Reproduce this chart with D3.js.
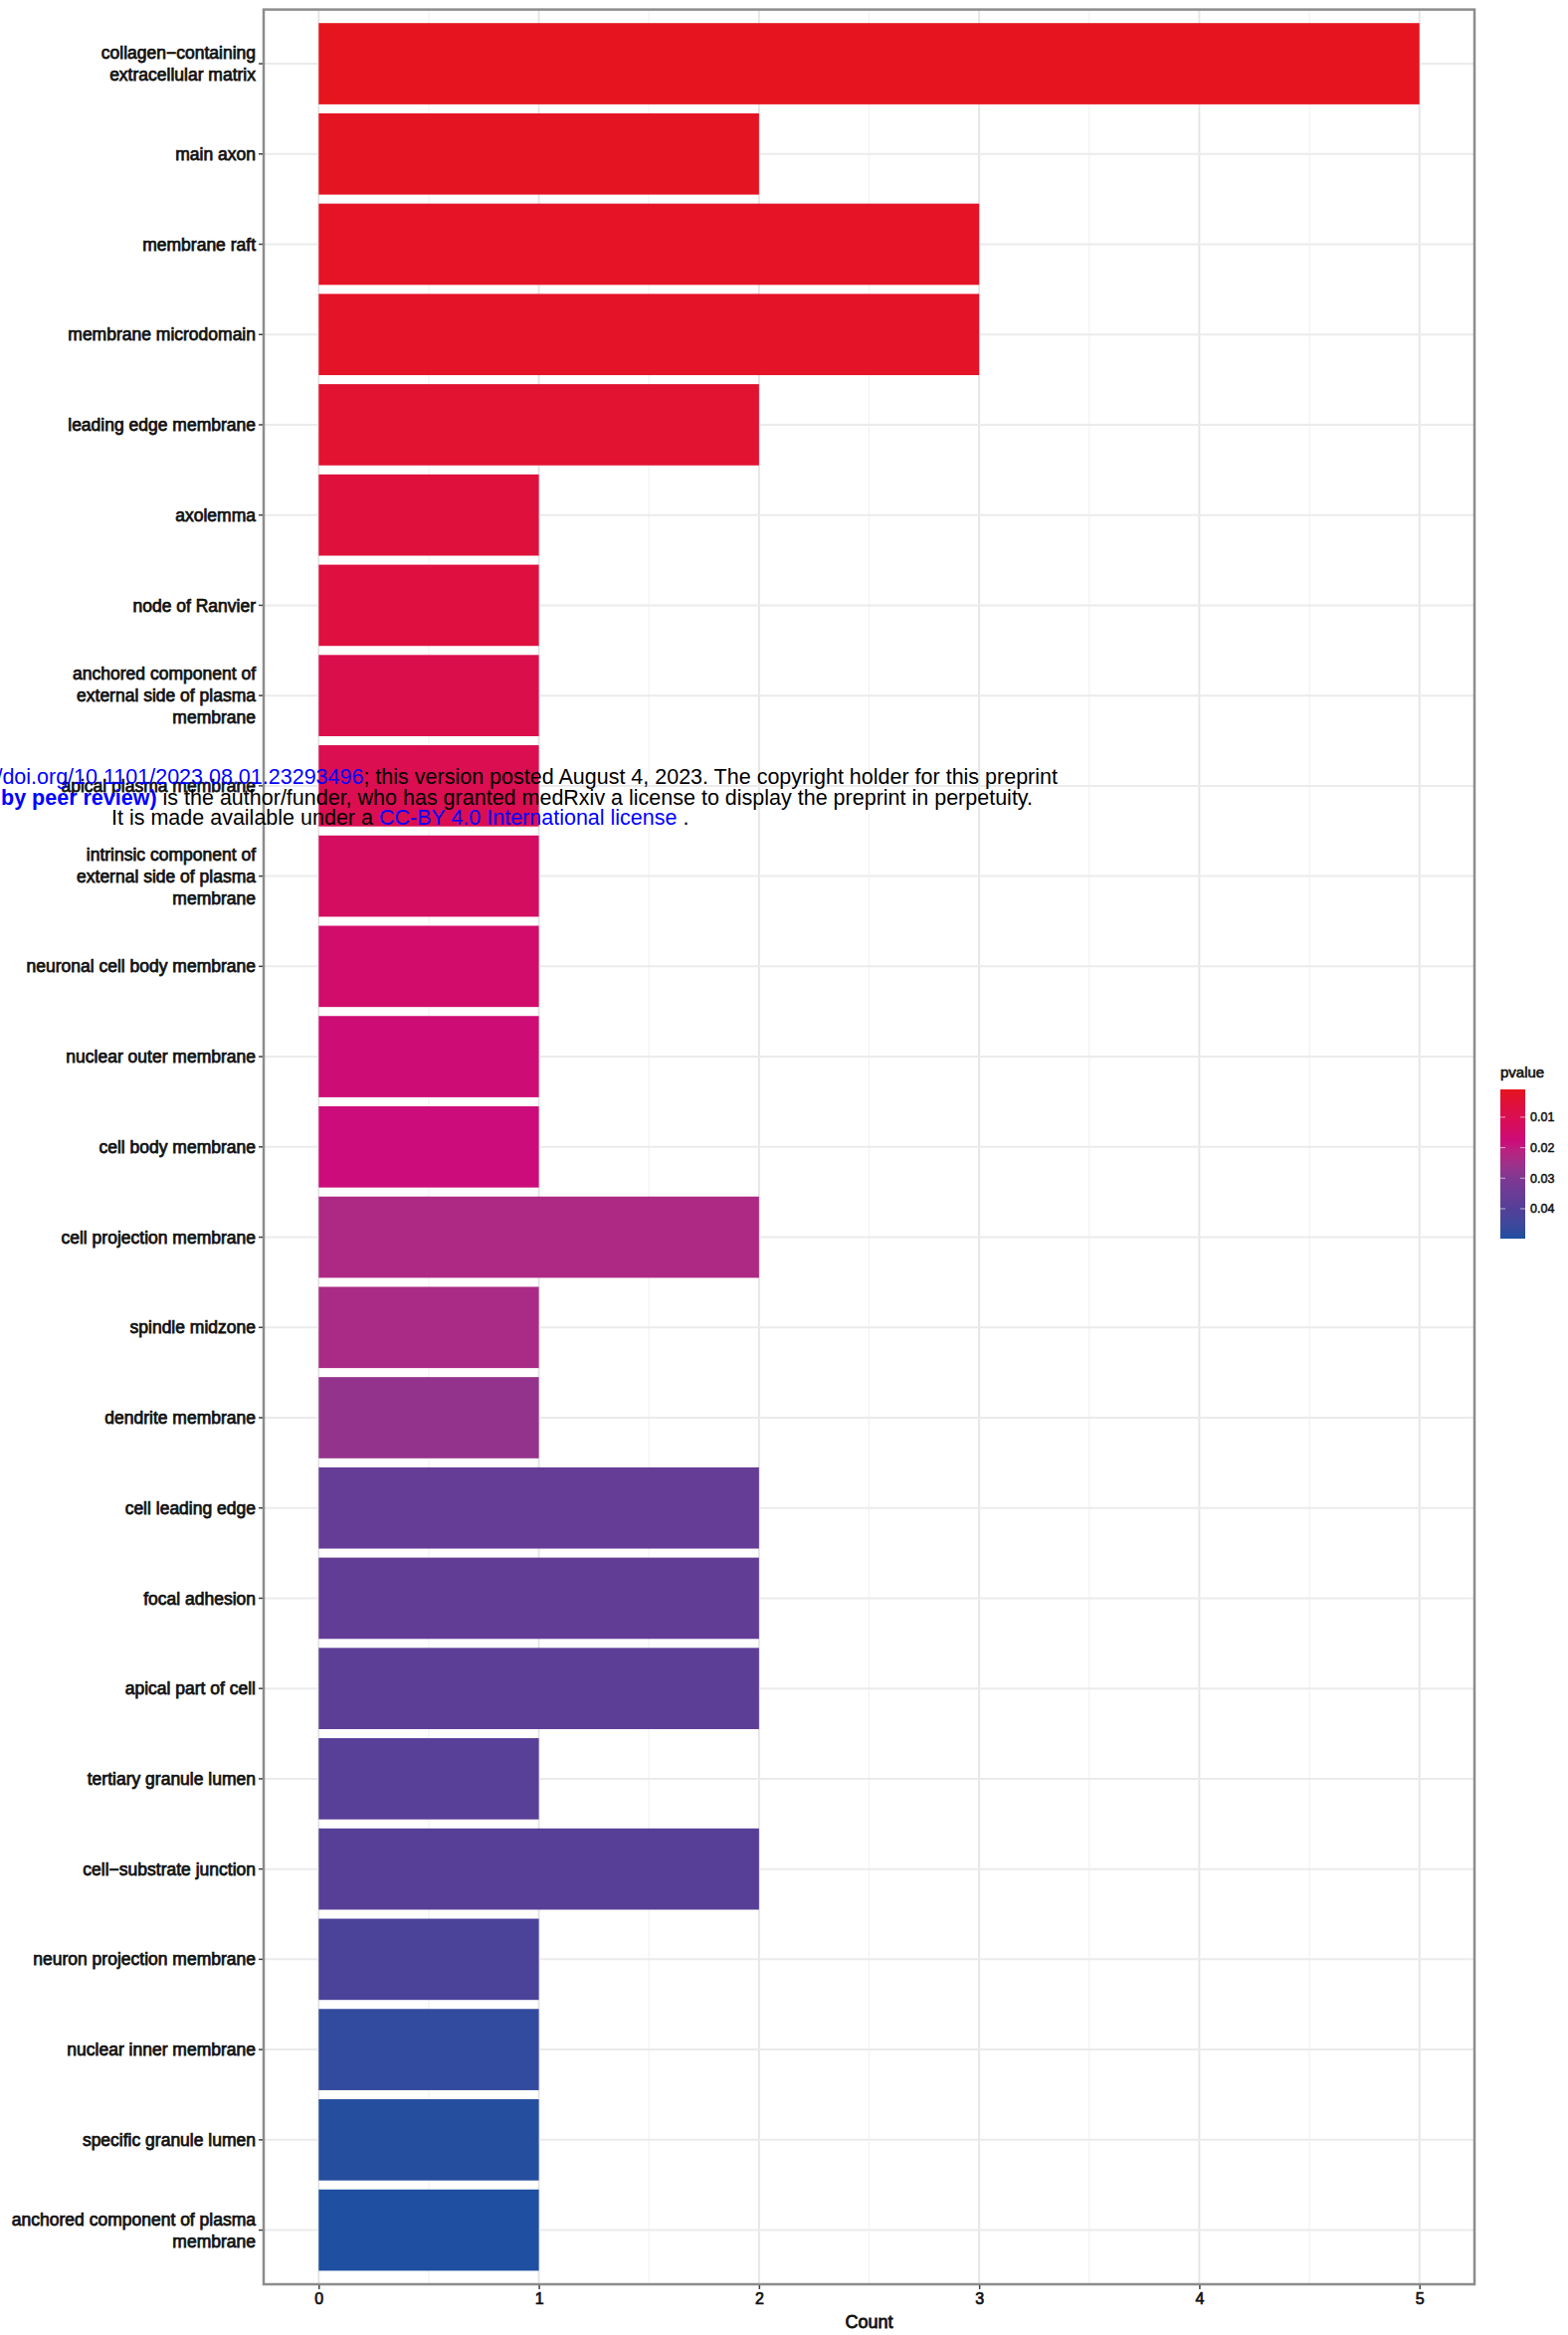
<!DOCTYPE html>
<html>
<head>
<meta charset="utf-8">
<script src="https://cdn.jsdelivr.net/npm/d3@7"></script>
<style>
  html, body { margin: 0; padding: 0; background: #fff; }
  svg { display: block; }
</style>
</head>
<body>
<svg id="chart" width="1576" height="2347"></svg>
<script>
// ---------------- data ----------------
const categories = [
  "collagen\u2212containing\nextracellular matrix",
  "main axon",
  "membrane raft",
  "membrane microdomain",
  "leading edge membrane",
  "axolemma",
  "node of Ranvier",
  "anchored component of\nexternal side of plasma\nmembrane",
  "apical plasma membrane",
  "intrinsic component of\nexternal side of plasma\nmembrane",
  "neuronal cell body membrane",
  "nuclear outer membrane",
  "cell body membrane",
  "cell projection membrane",
  "spindle midzone",
  "dendrite membrane",
  "cell leading edge",
  "focal adhesion",
  "apical part of cell",
  "tertiary granule lumen",
  "cell\u2212substrate junction",
  "neuron projection membrane",
  "nuclear inner membrane",
  "specific granule lumen",
  "anchored component of plasma\nmembrane"
];
const counts = [5, 2, 3, 3, 2, 1, 1, 1, 1, 1, 1, 1, 1, 2, 1, 1, 2, 2, 2, 1, 2, 1, 1, 1, 1];
const pvalues = [0.0009, 0.0015, 0.002, 0.0022, 0.004, 0.006, 0.0065, 0.009, 0.010, 0.013,
                 0.015, 0.017, 0.018, 0.023, 0.0235, 0.027, 0.036, 0.037, 0.038, 0.039,
                 0.0393, 0.042, 0.047, 0.049, 0.0498];
const xTicks = [0, 1, 2, 3, 4, 5];
const legendTicks = [0.01, 0.02, 0.03, 0.04];

const noticeLines = [
  [["medRxiv preprint doi: ", "#000", "normal"], ["https://doi.org/10.1101/2023.08.01.23293496", "#0000ff", "normal"], ["; this version posted August 4, 2023. The copyright holder for this preprint", "#000", "normal"]],
  [["(which was not certified ", "#000", "normal"], ["by peer review)", "#0000ff", "bold"], [" is the author/funder, who has granted medRxiv a license to display the preprint in perpetuity.", "#000", "normal"]],
  [["It is made available under a ", "#000", "normal"], ["CC-BY 4.0 International license", "#0000ff", "normal"], [" .", "#000", "normal"]]
];

// ---------------- layout ----------------
const PL = 265, PR = 1482, PT = 9.6, PB = 2296;
const svg = d3.select("#chart");
const font = "'Liberation Sans', Arial, Helvetica, sans-serif";

const x = d3.scaleLinear().domain([-0.25, 5.25]).range([PL, PR]);
const y = d3.scaleBand().domain(categories).range([PT, PB]).paddingInner(0.1).paddingOuter(0.15);

const pmin = d3.min(pvalues), pmax = d3.max(pvalues);
const color = d3.scaleLinear()
  .domain([pmin, 0.018, 0.03, 0.04, pmax])
  .range(["#e6141e", "#cc0c7a", "#7f3892", "#533f98", "#1e4fa0"])
  .interpolate(d3.interpolateLab);

// panel background
svg.append("rect").attr("x", PL).attr("y", PT).attr("width", PR - PL).attr("height", PB - PT).attr("fill", "#fff");

// minor vertical grid
const minor = d3.range(-0.5, 5.6, 1).filter(v => v > -0.25 && v < 5.25);
svg.append("g").selectAll("line").data(minor).join("line")
  .attr("x1", d => x(d)).attr("x2", d => x(d)).attr("y1", PT).attr("y2", PB)
  .attr("stroke", "#f2f2f2").attr("stroke-width", 1.2);
// major vertical grid
svg.append("g").selectAll("line").data(xTicks).join("line")
  .attr("x1", d => x(d)).attr("x2", d => x(d)).attr("y1", PT).attr("y2", PB)
  .attr("stroke", "#e6e6e6").attr("stroke-width", 2);
// major horizontal grid
svg.append("g").selectAll("line").data(categories).join("line")
  .attr("x1", PL).attr("x2", PR)
  .attr("y1", d => y(d) + y.bandwidth() / 2).attr("y2", d => y(d) + y.bandwidth() / 2)
  .attr("stroke", "#ebebeb").attr("stroke-width", 2);

// bars
svg.append("g").selectAll("rect").data(categories).join("rect")
  .attr("x", x(0))
  .attr("y", d => y(d))
  .attr("width", (d, i) => x(counts[i]) - x(0))
  .attr("height", y.bandwidth())
  .attr("fill", (d, i) => color(pvalues[i]));

// panel border
svg.append("rect").attr("x", PL).attr("y", PT).attr("width", PR - PL).attr("height", PB - PT)
  .attr("fill", "none").attr("stroke", "#8c8c8c").attr("stroke-width", 2.5);

// y axis
const yAxis = svg.append("g").attr("transform", `translate(${PL - 1},0)`)
  .call(d3.axisLeft(y).tickSize(4).tickPadding(4).tickFormat(""));
yAxis.select(".domain").remove();
yAxis.selectAll(".tick line").attr("stroke", "#444").attr("stroke-width", 1.5);
const lineH = 22;
yAxis.selectAll(".tick").each(function (d) {
  const lines = d.split("\n");
  const t = d3.select(this).append("text")
    .attr("x", -7).attr("text-anchor", "end")
    .attr("fill", "#111").attr("stroke", "#111").attr("stroke-width", 0.75)
    .style("font-family", font).style("font-size", "17.5px");
  lines.forEach((ln, k) => {
    t.append("tspan").attr("x", -7)
      .attr("y", (k - (lines.length - 1) / 2) * lineH)
      .attr("dy", "0.35em").text(ln);
  });
});

// x axis
const xAxis = svg.append("g").attr("transform", `translate(0,${PB + 1})`)
  .call(d3.axisBottom(x).tickValues(xTicks).tickSize(4).tickPadding(4).tickFormat(d3.format("d")));
xAxis.select(".domain").remove();
xAxis.selectAll(".tick line").attr("stroke", "#444").attr("stroke-width", 1.5);
xAxis.selectAll(".tick text").attr("fill", "#111").attr("stroke", "#111").attr("stroke-width", 0.7)
  .style("font-family", font).style("font-size", "16px");

svg.append("text").attr("x", (PL + PR) / 2).attr("y", 2340)
  .attr("text-anchor", "middle").attr("fill", "#111").attr("stroke", "#111").attr("stroke-width", 0.8)
  .style("font-family", font).style("font-size", "18px").text("Count");

// legend
const LX = 1508, LW = 25, LT = 1095, LB = 1245;
const ly = d3.scaleLinear().domain([pmin, pmax]).range([LT, LB]);
const grad = svg.append("defs").append("linearGradient").attr("id", "pgrad")
  .attr("x1", 0).attr("y1", 0).attr("x2", 0).attr("y2", 1);
d3.range(0, 1.0001, 0.05).forEach(f => {
  grad.append("stop").attr("offset", f).attr("stop-color", color(pmin + f * (pmax - pmin)));
});
svg.append("text").attr("x", LX).attr("y", 1083)
  .attr("fill", "#111").attr("stroke", "#111").attr("stroke-width", 0.6)
  .style("font-family", font).style("font-size", "15px").text("pvalue");
svg.append("rect").attr("x", LX).attr("y", LT).attr("width", LW).attr("height", LB - LT).attr("fill", "url(#pgrad)");
const lg = svg.append("g");
lg.selectAll("line.l").data(legendTicks).join("line")
  .attr("x1", LX).attr("x2", LX + 5).attr("y1", d => ly(d)).attr("y2", d => ly(d))
  .attr("stroke", "#fff").attr("stroke-opacity", 0.6).attr("stroke-width", 1);
lg.selectAll("line.r").data(legendTicks).join("line")
  .attr("x1", LX + LW - 5).attr("x2", LX + LW).attr("y1", d => ly(d)).attr("y2", d => ly(d))
  .attr("stroke", "#fff").attr("stroke-opacity", 0.6).attr("stroke-width", 1);
lg.selectAll("text").data(legendTicks).join("text")
  .attr("x", LX + LW + 5).attr("y", d => ly(d)).attr("dy", "0.35em")
  .attr("fill", "#111").attr("stroke", "#111").attr("stroke-width", 0.5)
  .style("font-family", font).style("font-size", "12.5px").text(d => d.toFixed(2));

// preprint notice overlay
const notice = svg.append("g").style("font-family", font).style("font-size", "21.5px");
const noticeBase = [788, 808.5, 829];
const noticeAnchor = [["end", 1063], ["end", 1038], ["start", 112]];
noticeLines.forEach((parts, i) => {
  const t = notice.append("text").attr("x", noticeAnchor[i][1]).attr("y", noticeBase[i])
    .attr("text-anchor", noticeAnchor[i][0]);
  parts.forEach(p => t.append("tspan").attr("fill", p[1]).style("font-weight", p[2]).text(p[0]));
});
</script>
</body>
</html>
